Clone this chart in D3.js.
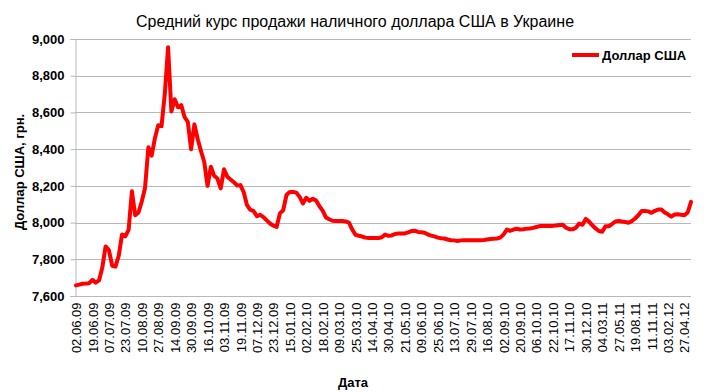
<!DOCTYPE html>
<html>
<head>
<meta charset="utf-8">
<script src="https://cdn.jsdelivr.net/npm/d3@7"></script>
<style>
  body { margin: 0; background: #fff; }
  svg { display: block; font-family: "Liberation Sans", Arial, sans-serif; }
</style>
</head>
<body>
<div id="chart"></div>
<script>
// подписи оси X (каждая пятая точка ряда)
const tickLabels = [
  '02.06.09', '19.06.09', '07.07.09', '23.07.09', '10.08.09', '27.08.09', '14.09.09', '30.09.09',
  '16.10.09', '03.11.09', '19.11.09', '07.12.09', '23.12.09', '15.01.10', '02.02.10', '18.02.10',
  '09.03.10', '25.03.10', '14.04.10', '30.04.10', '21.05.10', '09.06.10', '25.06.10', '13.07.10',
  '29.07.10', '16.08.10', '02.09.10', '20.09.10', '06.10.10', '22.10.10', '17.11.10', '30.12.10',
  '04.03.11', '27.05.11', '19.08.11', '11.11.11', '03.02.12', '27.04.12'
];
const labelStep = 5;

// курс, грн за 1 доллар
const usdRate = [
  7658, 7662, 7667, 7668, 7670, 7688, 7673, 7685, 7755, 7870,
  7850, 7765, 7760, 7820, 7935, 7925, 7960, 8170, 8040, 8055,
  8115, 8190, 8410, 8365, 8460, 8530, 8525, 8700, 8955, 8605,
  8672, 8628, 8640, 8575, 8548, 8400, 8535, 8455, 8390, 8330,
  8200, 8304, 8255, 8240, 8186, 8290, 8250, 8235, 8220, 8202,
  8204, 8165, 8095, 8070, 8062, 8035, 8042, 8030, 8012, 7995,
  7983, 7976, 8050, 8067, 8150, 8167, 8167, 8163, 8140, 8104,
  8135, 8118, 8130, 8120, 8090, 8065, 8028, 8018, 8010, 8009,
  8009, 8008, 8006, 8000, 7962, 7933, 7928, 7924, 7918, 7916,
  7916, 7916, 7916, 7920, 7935, 7928, 7930, 7938, 7940, 7940,
  7941, 7947, 7954, 7956, 7949, 7947, 7945, 7935, 7929, 7925,
  7918, 7915, 7913, 7908, 7904, 7903, 7900, 7903, 7904, 7904,
  7904, 7904, 7904, 7904, 7905, 7908, 7911, 7912, 7913, 7918,
  7935, 7962, 7955, 7962, 7966, 7962, 7964, 7967, 7968, 7971,
  7976, 7981, 7982, 7982, 7982, 7982, 7984, 7987, 7988, 7972,
  7964, 7963, 7972, 7995, 7988, 8020, 8005, 7985, 7968, 7954,
  7950, 7980, 7980, 7992, 8006, 8009, 8006, 8003, 7999, 8008,
  8022, 8040, 8063, 8063, 8061, 8053, 8064, 8071, 8071, 8055,
  8045, 8032, 8044, 8045, 8043, 8040, 8055, 8113
];

const yTicks = [7600, 7800, 8000, 8200, 8400, 8600, 8800, 9000];

const width = 710, height = 392;
const plot = { left: 75, right: 691, top: 39, bottom: 296 };
const gridColor = '#b8b8b8';
const font = '"Liberation Sans", Arial, sans-serif';

const svg = d3.select('#chart')
  .append('svg')
  .attr('width', width)
  .attr('height', height);

const x = d3.scaleLinear()
  .domain([0, usdRate.length - 1])
  .range([plot.left + 1, plot.right]);

const y = d3.scaleLinear()
  .domain([7600, 9000])
  .range([plot.bottom, plot.top]);

// сетка
svg.append('g')
  .selectAll('line')
  .data(yTicks.slice(1))
  .join('line')
  .attr('x1', plot.left)
  .attr('x2', plot.right)
  .attr('y1', d => Math.round(y(d)) + 0.5)
  .attr('y2', d => Math.round(y(d)) + 0.5)
  .attr('stroke', gridColor)
  .attr('stroke-width', 1);

// ось Y
const yAxis = svg.append('g')
  .attr('transform', `translate(${plot.left + 0.5},0)`)
  .call(d3.axisLeft(y).tickValues(yTicks).tickSize(5).tickPadding(6)
    .tickFormat(d => (d / 1000).toFixed(3).replace('.', ',')));
yAxis.select('.domain').attr('stroke', gridColor);
yAxis.selectAll('.tick line').attr('stroke', gridColor);
yAxis.selectAll('text')
  .attr('font-size', 13)
  .attr('font-weight', 'bold')
  .attr('fill', '#000')
  .attr('font-family', font);

// ось X
const tickIdx = tickLabels.map((_, i) => i * labelStep);
const xAxis = svg.append('g')
  .attr('transform', `translate(0,${plot.bottom + 0.5})`)
  .call(d3.axisBottom(x).tickValues(tickIdx).tickSize(0).tickPadding(0)
    .tickFormat(d => tickLabels[d / labelStep]));
xAxis.select('.domain').attr('stroke', gridColor).attr('d', `M${plot.left},0H${plot.right}`);
xAxis.selectAll('text')
  .attr('font-size', 13)
  .attr('fill', '#000')
  .attr('font-family', font)
  .attr('text-anchor', 'end')
  .attr('dy', '0.35em')
  .attr('transform', 'translate(0,6) rotate(-90)');

// линия курса
const line = d3.line()
  .x((d, i) => x(i))
  .y(d => y(d));

svg.append('path')
  .datum(usdRate)
  .attr('fill', 'none')
  .attr('stroke', '#ff0000')
  .attr('stroke-width', 4)
  .attr('stroke-linejoin', 'round')
  .attr('stroke-linecap', 'round')
  .attr('d', line);

// заголовок
svg.append('text')
  .attr('x', 355)
  .attr('y', 27)
  .attr('text-anchor', 'middle')
  .attr('font-size', 16)
  .text('Средний курс продажи наличного доллара США в Украине');

// подписи осей
svg.append('text')
  .attr('transform', 'translate(19,172) rotate(-90)')
  .attr('text-anchor', 'middle')
  .attr('dy', '0.35em')
  .attr('font-size', 13)
  .attr('font-weight', 'bold')
  .text('Доллар США, грн.');

svg.append('text')
  .attr('x', 353)
  .attr('y', 387)
  .attr('text-anchor', 'middle')
  .attr('font-size', 13)
  .attr('font-weight', 'bold')
  .text('Дата');

// легенда
const legend = svg.append('g').attr('transform', 'translate(572,55)');
legend.append('line')
  .attr('x1', 0).attr('x2', 27)
  .attr('stroke', '#ff0000')
  .attr('stroke-width', 4);
legend.append('text')
  .attr('x', 30)
  .attr('dy', '0.35em')
  .attr('font-size', 13)
  .attr('font-weight', 'bold')
  .text('Доллар США');
</script>
</body>
</html>
